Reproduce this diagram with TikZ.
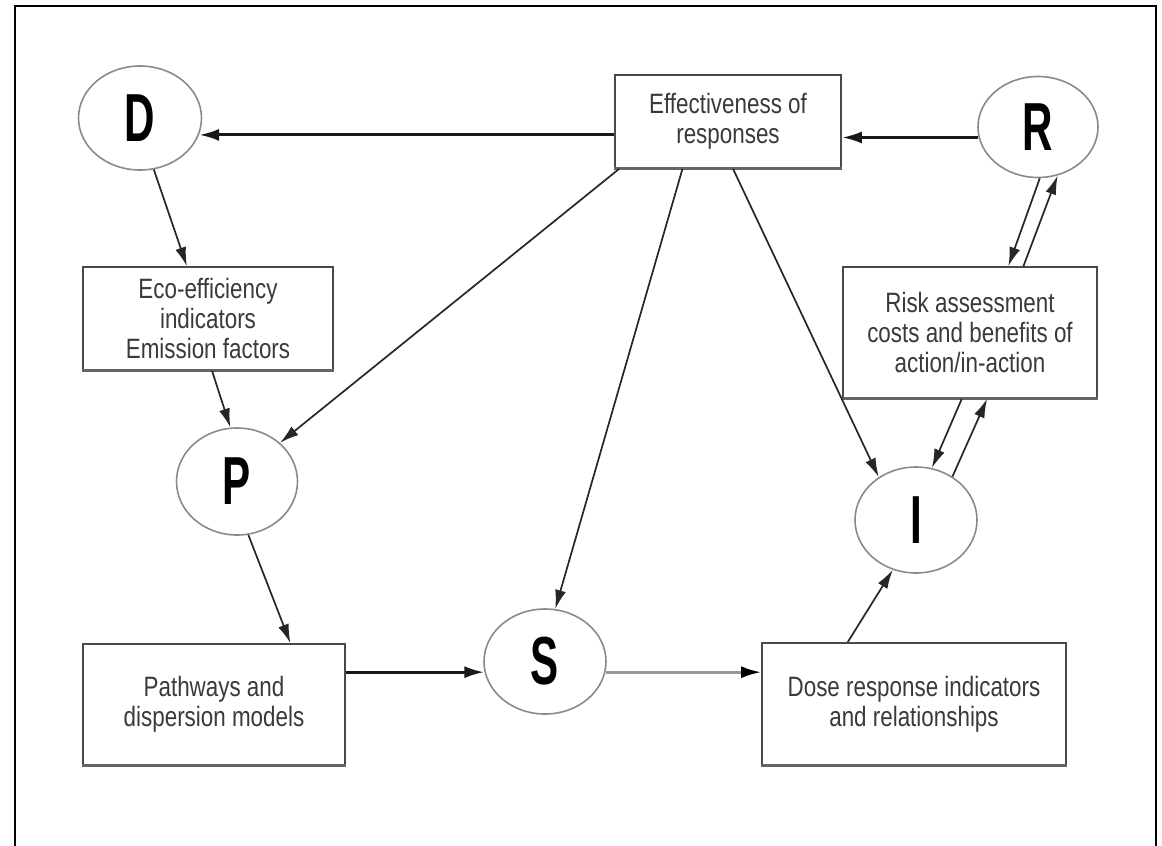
\documentclass[tikz,border=0pt]{standalone}
\usepackage{fontspec}
\setmainfont{Liberation Sans}
\newfontfamily\condfont[FakeStretch=0.8]{Liberation Sans}
\newfontfamily\letterfont[FakeStretch=0.62]{Liberation Sans}
\usetikzlibrary{shapes.geometric,arrows.meta,calc}
\definecolor{txt}{HTML}{3A3A3A}
\definecolor{edge}{HTML}{4A4A4A}
\definecolor{ring}{HTML}{8A8A8A}
\begin{document}
\begin{tikzpicture}[x=1pt,y=-1pt,
  lbl/.style={font=\condfont\fontsize{28}{30}\selectfont, text=txt, align=center},
  box/.style={lbl, draw=edge, line width=1.6pt, rectangle, inner sep=0pt, fill=white},
  oval/.style={ellipse, draw=ring, line width=1.6pt, inner sep=0pt, fill=white,
    font=\letterfont\bfseries\fontsize{68}{68}\selectfont},
  conn/.style={draw=black!85, line width=1.7pt, -{Latex[length=19pt,width=11pt]}},
  heavy/.style={draw=black!90, line width=3pt, -{Latex[length=20pt,width=12pt]}},
  grayconn/.style={draw=black!40, line width=2.8pt, -{Latex[length=20pt,width=12pt,color=black]}}
]
\useasboundingbox (0,0) rectangle (1162,846);
\draw[line width=2pt] (15,846) -- (15,6) -- (1156,6) -- (1156,846);

\node[oval, minimum width=123pt, minimum height=104pt] (D) at (140,118) {D};
\node[box, minimum width=226pt, minimum height=93pt] (eff) at (728,121.5) {Effectiveness of\\responses};
\node[oval, minimum width=120pt, minimum height=101pt] (R) at (1038,127) {R};
\node[box, minimum width=250pt, minimum height=103pt] (eco) at (208,318.5) {Eco-efficiency\\indicators\\Emission factors};
\node[box, minimum width=254pt, minimum height=131pt] (risk) at (970,332.5) {Risk assessment\\costs and benefits of\\action/in-action};
\node[oval, minimum width=121pt, minimum height=107pt] (P) at (237,481.5) {P};
\node[oval, minimum width=122pt, minimum height=106pt] (I) at (916,520) {I};
\node[box, minimum width=262pt, minimum height=121pt] (path) at (214,704.5) {Pathways and\\dispersion models};
\node[oval, minimum width=122pt, minimum height=105pt] (S) at (545,661.5) {S};
\node[box, minimum width=304pt, minimum height=122pt] (dose) at (914,704) {Dose response indicators\\and relationships};

\foreach \n in {eff,eco,risk,path,dose}
  \draw[edge!85, line width=3.2pt] (\n.south west) -- (\n.south east);

\draw[heavy] (eff.west |- D.-16) -- (D.-16);
\draw[heavy] (R.-170) -- (eff.east |- R.-170);
\draw[conn] (D.-75) -- ($(eco.north west)!0.416!(eco.north east)$);
\draw[conn] ($(eco.south west)!0.516!(eco.south east)$) -- (P.97);
\draw[conn] ($(eff.south west)!0.022!(eff.south east)$) -- (P.42);
\draw[conn] (P.-78) -- ($(path.north west)!0.79!(path.north east)$);
\draw[heavy] (path.east |- S.190) -- (S.190);
\draw[grayconn] (S.-10) -- (dose.west |- S.-10);
\draw[conn] ($(eff.south west)!0.30!(eff.south east)$) -- (S.79);
\draw[conn] ($(eff.south west)!0.522!(eff.south east)$) -- (I.131);
\draw[conn] ($(dose.north west)!0.283!(dose.north east)$) -- (I.-115);
\draw[conn] (R.-88) -- ($(risk.north west)!0.65!(risk.north east)$);
\draw[conn] ($(risk.north west)!0.709!(risk.north east)$) -- (R.-68);
\draw[conn] ($(risk.south west)!0.468!(risk.south east)$) -- (I.73);
\draw[conn] (I.50) -- ($(risk.south west)!0.567!(risk.south east)$);
\end{tikzpicture}
\end{document}
